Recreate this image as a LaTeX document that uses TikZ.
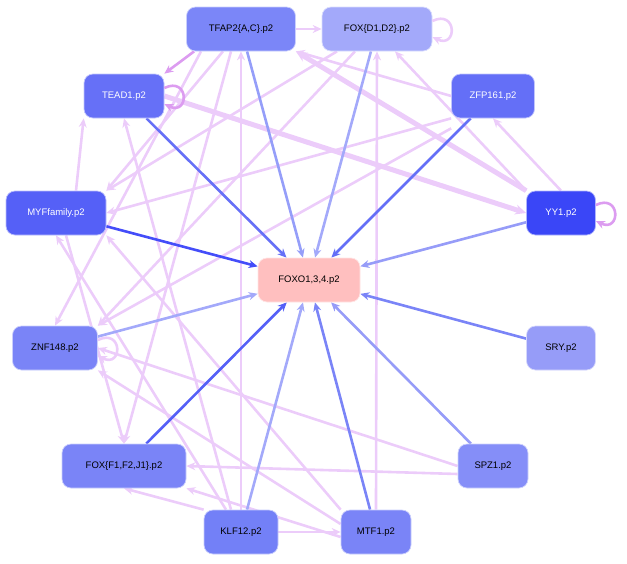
\documentclass[tikz,border=0pt]{standalone}
\usepackage{fontspec}
\setmainfont{Liberation Sans}
\usetikzlibrary{arrows.meta,calc,backgrounds}
\definecolor{pk}{HTML}{ECCCFA}
\definecolor{vi}{HTML}{DC9CF0}
\begin{document}
\begin{tikzpicture}[x=1pt,y=-1pt,
 n/.style={rectangle,rounded corners=9pt,minimum height=44pt,draw=#1!40!white,line width=0.7pt,fill=#1,font=\fontsize{9.5}{11}\selectfont,inner xsep=6pt},
 e/.style={line width=2.6pt,-{Stealth[length=9pt,width=8pt]},color=#1},
 e/.default=pk,
 th/.style={line width=5pt,-{Stealth[length=11pt,width=10pt]},color=pk}]
\useasboundingbox (0,0) rectangle (627,563);
\definecolor{cT}{HTML}{7B86F8}\definecolor{cFD}{HTML}{A3A9FA}\definecolor{cTE}{HTML}{6670F7}
\definecolor{cZ}{HTML}{646FF7}\definecolor{cM}{HTML}{5560F7}\definecolor{cY}{HTML}{3A46F7}
\definecolor{cO}{HTML}{FFBFBF}\definecolor{cZN}{HTML}{7A84F7}\definecolor{cS}{HTML}{969CF8}
\definecolor{cSP}{HTML}{858EF8}\definecolor{cK}{HTML}{7380F7}
\node[n=cT,minimum width=109pt] (tf) at (241,29) {TFAP2\{A,C\}.p2};
\node[n=cFD,minimum width=110pt] (fd) at (377,29) {FOX\{D1,D2\}.p2};
\node[n=cTE,minimum width=80pt,text=white] (te) at (124,96) {TEAD1.p2};
\node[n=cZ,minimum width=83pt,text=white] (zf) at (493,96) {ZFP161.p2};
\node[n=cM,minimum width=100pt,text=white] (my) at (56,213) {MYFfamily.p2};
\node[n=cY,minimum width=69pt,text=white] (yy) at (561,213) {YY1.p2};
\node[n=cO,minimum width=102pt] (fo) at (309,280) {FOXO1,3,4.p2};
\node[n=cZN,minimum width=85pt] (zn) at (55,348) {ZNF148.p2};
\node[n=cS,minimum width=69pt] (sr) at (561,348) {SRY.p2};
\node[n=cZN,minimum width=124pt] (ff) at (124,466) {FOX\{F1,F2,J1\}.p2};
\node[n=cSP,minimum width=70pt] (sp) at (493,466) {SPZ1.p2};
\node[n=cK,minimum width=74pt] (kl) at (241,532) {KLF12.p2};
\node[n=cZN,minimum width=70pt] (mt) at (376,532) {MTF1.p2};
\begin{pgfonlayer}{background}
% pink edges
\draw[e] (tf) -- (fd);
\draw[e=vi] ($(tf.south west)+(8,0)$) -- (te.north east);
\draw[e] ($(tf.south)+(-18,0)$) -- (my.north east);
\draw[e] ($(tf.south)+(-40,0)$) -- (zn.north);
\draw[e] ($(tf.south)+(-10,0)$) -- (ff.north);
\draw[e] (kl.north) -- (tf.south);
\draw[e] (mt.north) -- (fd.south);
\draw[e] (yy.north west) -- ($(fd.south)+(18,0)$);
\draw[e] (zf.west) -- (tf.south east);
\draw[e] (zf.south west) -- (my.east);
\draw[e] ($(zf.south west)+(0,10)$) -- (zn.north east);
\draw[e] (yy.north) -- (zf.south);
\draw[e] ($(fd.south)+(-40,0)$) -- (my.north east);
\draw[e] ($(fd.south)+(-22,0)$) -- (zn.north east);
\draw[e] ($(my.north)+(20,0)$) -- (te.south west);
\draw[e] ($(kl.north)+(-10,0)$) -- (te.south);
\draw[e] ($(my.south)+(10,0)$) -- (ff.north);
\draw[e] ($(kl.north)+(-15,0)$) -- (my.south);
\draw[e] (mt.north west) -- (my.south east);
\draw[e] (sp.west) -- (zn.east);
\draw[e] ($(mt.west)+(0,-8)$) -- (zn.south east);
\draw[e] ($(sp.west)+(0,8)$) -- (ff.east);
\draw[e] ($(mt.west)+(0,5)$) -- (ff.south east);
\draw[e] (kl.north west) -- (ff.south);
\draw[e] (kl) -- (mt);
\draw[th] (te.east) -- (yy.west);
\draw[th] (yy.north west) -- (tf.south east);
% blue edges into FOXO
\draw[e=cTE] (te) -- (fo);
\draw[e=cT!80!white] (tf) -- (fo);
\draw[e=cFD] (fd) -- (fo);
\draw[e=cZ] (zf) -- (fo);
\draw[e=cM!80!blue] (my) -- (fo);
\draw[e=cS] (yy) -- (fo);
\draw[e=cFD] (zn) -- (fo);
\draw[e=cZN] (sr) -- (fo);
\draw[e=cM] (ff) -- (fo);
\draw[e=cFD] (kl) -- (fo);
\draw[e=cZN] (mt) -- (fo);
\draw[e=cS] (sp) -- (fo);
\end{pgfonlayer}
% self loops
\draw[e] ($(fd.east)+(0,-8)$) .. controls +(25,-12) and +(25,12) .. ($(fd.east)+(0,8)$);
\draw[e=vi] ($(te.east)+(0,-8)$) .. controls +(25,-12) and +(25,12) .. ($(te.east)+(0,8)$);
\draw[e=vi] ($(yy.east)+(0,-8)$) .. controls +(25,-12) and +(25,12) .. ($(yy.east)+(0,8)$);
\draw[e] ($(zn.east)+(0,-8)$) .. controls +(25,-12) and +(25,12) .. ($(zn.east)+(0,8)$);
\end{tikzpicture}
\end{document}
